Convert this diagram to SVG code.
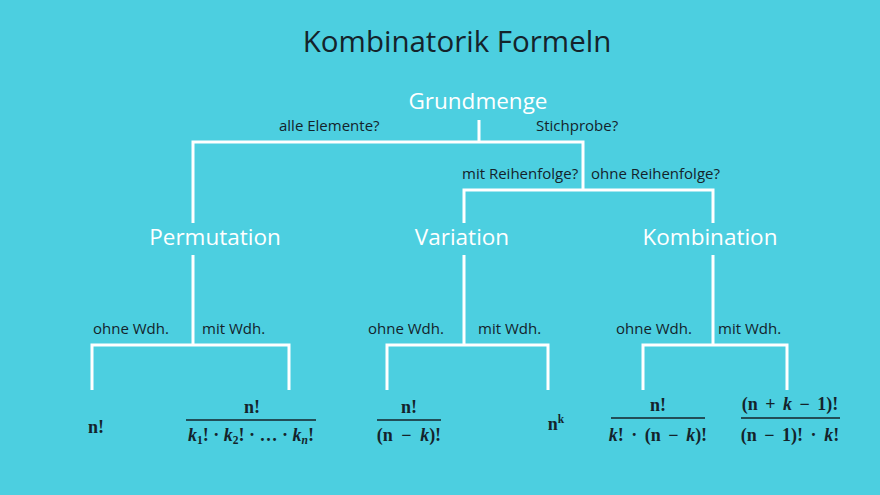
<svg xmlns="http://www.w3.org/2000/svg" width="880" height="495" viewBox="0 0 880 495">
<style>
.bg{fill:#4ccfe0}
.ln{stroke:#ffffff;stroke-width:3;fill:none}
.title{font-family:"Open Sans","Noto Sans",sans-serif;font-size:29.5px;fill:#14232b;text-anchor:middle}
.node{font-family:"Open Sans","Noto Sans",sans-serif;font-size:22.5px;fill:#ffffff;text-anchor:middle}
.lbl{font-family:"Open Sans","Noto Sans",sans-serif;font-size:15px;fill:#14232b}
.f{font-family:"Liberation Serif","DejaVu Serif",serif;font-size:18px;font-weight:bold;fill:#14232b;text-anchor:middle}
.ws{word-spacing:3px}
.fl{stroke:#14232b;stroke-width:1.5}
.it{font-style:italic}
</style>
<rect class="bg" x="0" y="0" width="880" height="495"/>
<text class="title" x="457" y="52">Kombinatorik Formeln</text>

<g id="connectors">
<path class="ln" d="M479,120 V142 M193,223 V142 H583 V190 M464,223 V190 H713 V223"/>
<path class="ln" d="M193,255 V345 M92,390 V345 H289 V390"/>
<path class="ln" d="M464,255 V345 M387,390 V345 H548 V390"/>
<path class="ln" d="M713,255 V345 M643,390 V345 H787 V390"/>
</g>

<g id="labels">
<text class="lbl" x="279" y="131">alle Elemente?</text>
<text class="lbl" x="536" y="131">Stichprobe?</text>
<text class="lbl" x="462" y="179">mit Reihenfolge?</text>
<text class="lbl" x="591" y="179">ohne Reihenfolge?</text>
<text class="lbl" x="93" y="334">ohne Wdh.</text>
<text class="lbl" x="202" y="334">mit Wdh.</text>
<text class="lbl" x="368" y="334">ohne Wdh.</text>
<text class="lbl" x="478" y="334">mit Wdh.</text>
<text class="lbl" x="616" y="334">ohne Wdh.</text>
<text class="lbl" x="718" y="334">mit Wdh.</text>
</g>

<g id="grundmenge"><text class="node" x="478" y="109">Grundmenge</text></g>
<g id="permutation"><text class="node" x="215" y="245">Permutation</text></g>
<g id="variation"><text class="node" x="462" y="245">Variation</text></g>
<g id="kombination"><text class="node" x="710" y="245">Kombination</text></g>

<g id="perm-ohne"><text class="f" x="96" y="433">n!</text></g>
<g id="perm-mit">
<text class="f" x="252" y="413">n!</text>
<line class="fl" x1="186" y1="420" x2="316" y2="420"/>
<text class="f" x="251" y="441"><tspan class="it">k</tspan><tspan font-size="11.5" dy="3">1</tspan><tspan dy="-3">! · </tspan><tspan class="it">k</tspan><tspan font-size="11.5" dy="3">2</tspan><tspan dy="-3">! · … · </tspan><tspan class="it">k</tspan><tspan class="it" font-size="11.5" dy="3">n</tspan><tspan dy="-3">!</tspan></text>
</g>
<g id="var-ohne">
<text class="f" x="409" y="413">n!</text>
<line class="fl" x1="377" y1="420" x2="441" y2="420"/>
<text class="f ws" x="409" y="441" style="word-spacing:4px">(n − <tspan class="it">k</tspan>)!</text>
</g>
<g id="var-mit"><text class="f" x="556" y="430">n<tspan font-size="11.5" dy="-7">k</tspan></text></g>
<g id="komb-ohne">
<text class="f" x="658" y="411">n!</text>
<line class="fl" x1="611" y1="418" x2="705" y2="418"/>
<text class="f ws" x="658" y="441"><tspan class="it">k</tspan>! · (n − <tspan class="it">k</tspan>)!</text>
</g>
<g id="komb-mit">
<text class="f ws" x="790" y="410">(n + <tspan class="it">k</tspan> − 1)!</text>
<line class="fl" x1="741" y1="418" x2="840" y2="418"/>
<text class="f ws" x="790" y="441">(n − 1)! · <tspan class="it">k</tspan>!</text>
</g>
</svg>
